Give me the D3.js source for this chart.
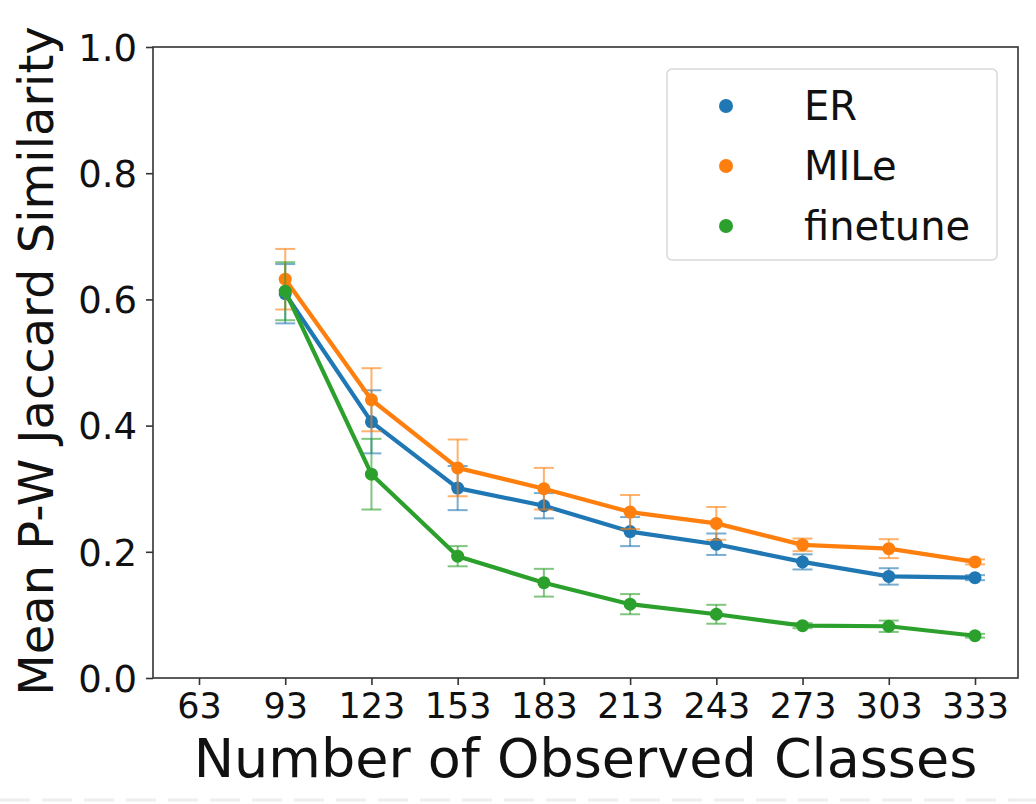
<!DOCTYPE html>
<html><head><meta charset="utf-8">
<script src="https://cdn.jsdelivr.net/npm/d3@7"></script>
<style>body{margin:0;background:#fff;} svg{display:block;font-family:"DejaVu Sans",sans-serif;}</style>
</head><body>
<svg id="c" width="1036" height="804"></svg>
<script>
const xTicks = [63, 93, 123, 153, 183, 213, 243, 273, 303, 333];
const xData = [93, 123, 153, 183, 213, 243, 273, 303, 333];
const yTicks = [0.0, 0.2, 0.4, 0.6, 0.8, 1.0];
const seriesNames = ["ER", "MILe", "finetune"];
const seriesColors = ["#1f77b4", "#ff7f0e", "#2ca02c"];
const erMean = [0.609, 0.406, 0.301, 0.273, 0.232, 0.212, 0.184, 0.161, 0.159];
const erErr  = [0.047, 0.050, 0.035, 0.020, 0.023, 0.017, 0.012, 0.013, 0.004];
const mileMean = [0.632, 0.441, 0.333, 0.300, 0.263, 0.245, 0.211, 0.205, 0.184];
const mileErr  = [0.048, 0.050, 0.045, 0.033, 0.027, 0.026, 0.010, 0.015, 0.004];
const ftMean = [0.613, 0.323, 0.193, 0.151, 0.117, 0.101, 0.083, 0.082, 0.067];
const ftErr  = [0.046, 0.056, 0.016, 0.022, 0.016, 0.015, 0.004, 0.009, 0.003];
const means = [erMean, mileMean, ftMean];
const errs = [erErr, mileErr, ftErr];

const svg = d3.select("#c");
const L = 153, R = 1018, T = 47, B = 678;
const x = d3.scaleLinear().domain([63, 333]).range([199, 975]);
const y = d3.scaleLinear().domain([0, 1]).range([B, T]);

// faint dashed artifact at the bottom
svg.append("line").attr("x1",0).attr("x2",1036).attr("y1",800).attr("y2",800)
  .attr("stroke","#eeeeee").attr("stroke-width",3).attr("stroke-dasharray","30,12");

// series
const line = d3.line().x((d,i)=>x(xData[i])).y(d=>y(d));
seriesNames.forEach((name, s) => {
  const g = svg.append("g");
  const col = seriesColors[s];
  g.append("path").datum(means[s]).attr("d", line)
    .attr("fill","none").attr("stroke",col).attr("stroke-width",4.2).attr("stroke-linejoin","round");
  const eb = g.append("g").attr("stroke",col).attr("stroke-opacity",0.6).attr("stroke-width",2);
  means[s].forEach((m, i) => {
    const xi = x(xData[i]), lo = y(m - errs[s][i]), hi = y(m + errs[s][i]);
    eb.append("line").attr("x1",xi).attr("x2",xi).attr("y1",lo).attr("y2",hi);
    eb.append("line").attr("x1",xi-10).attr("x2",xi+10).attr("y1",lo).attr("y2",lo);
    eb.append("line").attr("x1",xi-10).attr("x2",xi+10).attr("y1",hi).attr("y2",hi);
  });
  g.selectAll("circle").data(means[s]).join("circle")
    .attr("cx",(d,i)=>x(xData[i])).attr("cy",d=>y(d)).attr("r",6.5).attr("fill",col);
});

// frame
svg.append("rect").attr("x",L).attr("y",T).attr("width",R-L).attr("height",B-T)
  .attr("fill","none").attr("stroke","#333").attr("stroke-width",1.6);

// axes
const xAxis = svg.append("g").attr("transform",`translate(0,${B})`)
  .call(d3.axisBottom(x).tickValues(xTicks).tickFormat(d3.format("d")).tickSize(7).tickPadding(8));
const yAxis = svg.append("g").attr("transform",`translate(${L},0)`)
  .call(d3.axisLeft(y).tickValues(yTicks).tickFormat(d3.format(".1f")).tickSize(7).tickPadding(9));
[xAxis, yAxis].forEach(a => {
  a.select(".domain").remove();
  a.selectAll(".tick line").attr("stroke","#333").attr("stroke-width",1.6);
  a.selectAll(".tick text").attr("fill","#111").style("font-family","DejaVu Sans");
});
xAxis.selectAll(".tick text").style("font-size","35px");
yAxis.selectAll(".tick text").style("font-size","37px").attr("dy","0.36em");

// axis labels
svg.append("text").attr("x",(L+R)/2).attr("y",777).attr("text-anchor","middle")
  .style("font-size","54px").attr("fill","#111").text("Number of Observed Classes");
svg.append("text").attr("transform","translate(53,361) rotate(-90)").attr("text-anchor","middle")
  .style("font-size","48px").attr("fill","#111").text("Mean P-W Jaccard Similarity");

// legend
const lg = svg.append("g");
lg.append("rect").attr("x",667).attr("y",69).attr("width",330).attr("height",191).attr("rx",5)
  .attr("fill","#fff").attr("fill-opacity",0.8).attr("stroke","#d8d8d8").attr("stroke-width",1.5);
seriesNames.forEach((name, s) => {
  const yy = 106 + s*60;
  lg.append("circle").attr("cx",726).attr("cy",yy).attr("r",7).attr("fill",seriesColors[s]);
  lg.append("text").attr("x",804).attr("y",yy).attr("dy","0.36em")
    .style("font-size","40px").attr("fill","#111").text(name);
});
</script>
</body></html>
